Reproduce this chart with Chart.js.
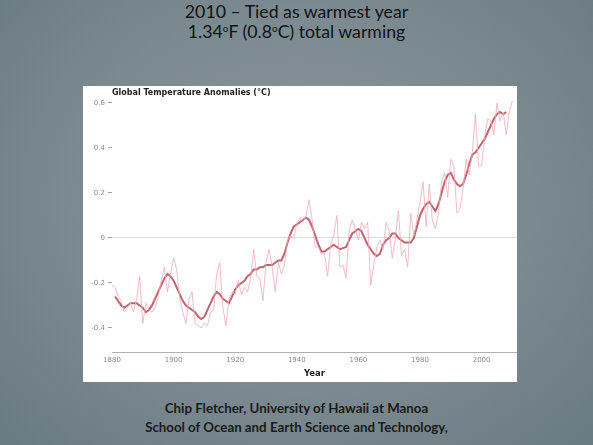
<!DOCTYPE html>
<html>
<head>
<meta charset="utf-8">
<script src="https://cdn.jsdelivr.net/npm/chart.js@4/dist/chart.umd.min.js"></script>
<style>
  html, body { margin: 0; padding: 0; }
  body {
    width: 593px; height: 445px; position: relative; overflow: hidden;
    background: radial-gradient(ellipse at 50% 45%, #8a989d 0%, #7b8a90 55%, #6a7a81 100%);
    font-family: Lato, "Open Sans", sans-serif;
  }
  #head {
    position: absolute; left: 0; top: 2px; width: 593px; text-align: center;
    color: #111; font-size: 17.7px; line-height: 20px;
  }
  #head sup { font-size: 10px; line-height: 0; vertical-align: 6px; }
  #panel {
    position: absolute; left: 83px; top: 86px; width: 434px; height: 296px;
    background: #fff;
  }
  #panel canvas { display: block; }
  #foot {
    position: absolute; left: 0; top: 399px; width: 593px; text-align: center;
    color: #1a1a1a; font-weight: bold; font-size: 13.3px; line-height: 19px;
  }
</style>
</head>
<body>
<div id="head">
  <div>2010 – Tied as warmest year</div>
  <div>1.34<sup>o</sup>F (0.8<sup>o</sup>C) total warming</div>
</div>
<div id="panel"><canvas id="chart" width="434" height="296"></canvas></div>
<div id="foot">
  <div>Chip Fletcher, University of Hawaii at Manoa</div>
  <div>School of Ocean and Earth Science and Technology,</div>
</div>
<script>
// Annual global temperature anomalies (°C), 1880–2010
const annualStart = 1880;
const annualValues = [
  -0.21, -0.22, -0.26, -0.28, -0.33, -0.31, -0.29, -0.33, -0.27, -0.17,
  -0.38, -0.29, -0.32, -0.33, -0.31, -0.26, -0.19, -0.13, -0.24, -0.16,
  -0.09, -0.14, -0.27, -0.33, -0.38, -0.27, -0.24, -0.38, -0.39, -0.40,
  -0.38, -0.39, -0.33, -0.32, -0.16, -0.11, -0.31, -0.39, -0.27, -0.24,
  -0.25, -0.19, -0.25, -0.22, -0.24, -0.18, -0.05, -0.17, -0.18, -0.28,
  -0.11, -0.05, -0.13, -0.24, -0.11, -0.16, -0.12, -0.01, 0.01, 0.00,
  0.06, 0.09, 0.07, 0.10, 0.17, 0.08, -0.04, -0.04, -0.07, -0.07,
  -0.17, -0.03, 0.01, 0.10, -0.13, -0.12, -0.18, 0.03, 0.08, 0.04,
  -0.01, 0.07, 0.04, 0.07, -0.21, -0.12, -0.04, -0.01, -0.05, 0.07,
  0.03, -0.09, 0.00, 0.12, -0.08, -0.05, -0.13, 0.11, 0.01, 0.08,
  0.16, 0.25, 0.05, 0.24, 0.08, 0.04, 0.11, 0.25, 0.29, 0.18,
  0.35, 0.32, 0.11, 0.13, 0.22, 0.35, 0.28, 0.38, 0.55, 0.32,
  0.32, 0.45, 0.53, 0.52, 0.46, 0.60, 0.52, 0.56, 0.46, 0.56,
  0.61
];

// Five-year running mean (°C), 1881–2008
const meanStart = 1881;
const meanValues = [
  -0.26, -0.28, -0.30, -0.31, -0.30, -0.29, -0.29, -0.29, -0.30,
  -0.31, -0.33, -0.32, -0.30, -0.27, -0.24, -0.21, -0.18, -0.16, -0.17,
  -0.19, -0.22, -0.25, -0.28, -0.30, -0.31, -0.32, -0.33, -0.35, -0.36,
  -0.35, -0.32, -0.29, -0.26, -0.24, -0.25, -0.27, -0.28, -0.29, -0.26,
  -0.23, -0.21, -0.20, -0.19, -0.17, -0.16, -0.14, -0.14, -0.13, -0.13,
  -0.12, -0.12, -0.12, -0.11, -0.10, -0.10, -0.07, -0.02, 0.02, 0.05,
  0.06, 0.07, 0.08, 0.09, 0.08, 0.05, 0.01, -0.03, -0.06, -0.06,
  -0.05, -0.04, -0.03, -0.04, -0.05, -0.045, -0.04, -0.01, 0.02, 0.03,
  0.04, 0.03, 0.00, -0.03, -0.05, -0.07, -0.08, -0.07, -0.03, -0.01,
  0.00, 0.02, 0.02, 0.00, -0.01, -0.02, -0.02, -0.02, 0.00, 0.05,
  0.10, 0.13, 0.15, 0.16, 0.14, 0.12, 0.15, 0.20, 0.25, 0.28,
  0.29, 0.26, 0.24, 0.23, 0.24, 0.28, 0.33, 0.37, 0.38, 0.40,
  0.42, 0.44, 0.47, 0.50, 0.53, 0.55, 0.56, 0.55, 0.56
];

const yearTicks = [1880, 1900, 1920, 1940, 1960, 1980, 2000];
const anomalyTicks = [-0.4, -0.2, 0, 0.2, 0.4, 0.6];

const toPoints = (start, values) => values.map((v, i) => ({ x: start + i, y: v }));

const axisFont = { family: '"DejaVu Sans", Verdana, sans-serif', size: 7 };

new Chart(document.getElementById('chart'), {
  type: 'line',
  data: {
    datasets: [
      {
        label: 'Annual mean',
        data: toPoints(annualStart, annualValues),
        borderColor: 'rgba(236,172,182,0.8)',
        borderWidth: 1,
        pointRadius: 0,
        tension: 0,
        clip: false
      },
      {
        label: '5-year mean',
        data: toPoints(meanStart, meanValues),
        borderColor: 'rgb(196,98,110)',
        borderWidth: 2,
        pointRadius: 0,
        tension: 0,
        clip: false
      }
    ]
  },
  options: {
    responsive: false,
    animation: false,
    devicePixelRatio: 1,
    layout: { padding: 0 },
    plugins: {
      legend: { display: false },
      tooltip: { enabled: false },
      title: {
        display: true,
        text: 'Global Temperature Anomalies (°C)',
        align: 'start',
        fullSize: false,
        color: '#222',
        font: { family: '"DejaVu Sans", Verdana, sans-serif', size: 8, weight: 'bold', lineHeight: 1.2 },
        padding: { top: 2, bottom: 0 }
      }
    },
    scales: {
      x: {
        type: 'linear',
        min: 1880,
        max: 2011.5,
        afterFit: s => { s.height = 30; },
        afterBuildTicks: s => { s.ticks = yearTicks.map(v => ({ value: v })); },
        ticks: {
          color: '#8a8a8a',
          font: axisFont,
          padding: 4,
          maxRotation: 0,
          callback: v => String(v)
        },
        grid: { display: false, drawTicks: false },
        border: { display: true, color: '#b0b0b0', width: 1 },
        title: {
          display: true,
          text: 'Year',
          color: '#222',
          font: { family: '"DejaVu Sans", Verdana, sans-serif', size: 8.5, weight: 'bold' },
          padding: { top: 0, bottom: 3 }
        }
      },
      y: {
        type: 'linear',
        min: -0.507,
        max: 0.624,
        afterFit: s => { s.width = 29; },
        afterBuildTicks: s => { s.ticks = anomalyTicks.map(v => ({ value: v })); },
        ticks: {
          color: '#8a8a8a',
          font: axisFont,
          padding: 3,
          callback: v => (v === 0 ? '0' : v.toFixed(1))
        },
        grid: {
          color: c => (c.tick && c.tick.value === 0 ? '#dcdcdc' : 'rgba(0,0,0,0)'),
          tickColor: '#a0a0a0',
          tickLength: 4,
          lineWidth: 1
        },
        border: { display: false }
      }
    }
  }
});
</script>
</body>
</html>
